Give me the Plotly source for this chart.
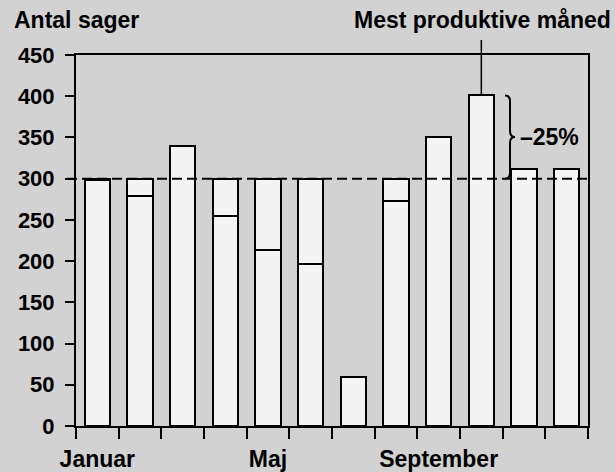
import plotly.graph_objects as go

# ---- data ----
months = ["Januar", "Februar", "Marts", "April", "Maj", "Juni",
          "Juli", "August", "September", "Oktober", "November", "December"]
cases = [298, 279, 340, 255, 214, 196, 59, 273, 351, 401, 312, 312]
gap_to_level = [2, 21, None, 45, 86, 104, None, 27, None, None, None, None]
labelled_months = ["Januar", "Maj", "September"]
y_ticks = [0, 50, 100, 150, 200, 250, 300, 350, 400, 450]
level = 300
peak_month = "Oktober"
y_title = "Antal sager"
peak_label = "Mest produktive måned"
reduction_label = "–25%"

# ---- style ----
BG = "#d2d2d2"
BAR = "#f4f4f4"
FONT = "Liberation Sans, Arial, sans-serif"
Y_MAX = y_ticks[-1]
L, R, T, B = 76, 27, 55, 46
W, H = 615, 472
PW, PH = W - L - R, H - T - B

x = list(range(1, len(months) + 1))
peak_x = months.index(peak_month) + 1
peak_val = cases[peak_x - 1]

fig = go.Figure()
fig.add_trace(go.Bar(x=x, y=cases, width=0.6,
                     marker=dict(color=BAR, line=dict(color="black", width=2)),
                     hoverinfo="skip"))
fig.add_trace(go.Bar(x=x, y=gap_to_level, width=0.6,
                     marker=dict(color=BAR, line=dict(color="black", width=2)),
                     hoverinfo="skip"))


def px(p):
    return 0.5 + (p - L) / PW * len(months)


shapes = []
# dashed reference level
shapes.append(dict(type="line", xref="paper", yref="y", x0=-9 / PW, x1=1,
                   y0=level, y1=level, layer="above",
                   line=dict(color="black", width=2, dash="10px,5px")))
# pointer line to peak month
shapes.append(dict(type="line", xref="x", yref="paper", x0=peak_x, x1=peak_x,
                   y0=peak_val / Y_MAX, y1=1 + 15 / PH, layer="above",
                   line=dict(color="black", width=1.5)))
# brace between peak and level
xa, xb, xc = px(505), px(510), px(515)
mid = (peak_val + level) / 2
r = 6 * Y_MAX / PH
path = (f"M {xa},{peak_val} Q {xb},{peak_val} {xb},{peak_val - r} "
        f"L {xb},{mid + r} Q {xb},{mid} {xc},{mid} "
        f"Q {xb},{mid} {xb},{mid - r} "
        f"L {xb},{level + r} Q {xb},{level} {xa},{level}")
shapes.append(dict(type="path", xref="x", yref="y", path=path, layer="above",
                   line=dict(color="black", width=2)))

annotations = [
    dict(text=y_title, xref="paper", yref="paper", x=(12 - L) / PW,
         y=1 + (T - 20) / PH, xanchor="left", yanchor="middle", showarrow=False,
         font=dict(size=23, family=FONT, color="black", weight="bold")),
    dict(text=peak_label, xref="paper", yref="paper", x=(613 - L) / PW,
         y=1 + (T - 20) / PH, xanchor="right", yanchor="middle", showarrow=False,
         font=dict(size=23, family=FONT, color="black", weight="bold")),
    dict(text=reduction_label, xref="x", yref="y", x=px(518), y=mid,
         xanchor="left", yanchor="middle", showarrow=False,
         font=dict(size=23, family=FONT, color="black", weight="bold")),
]

fig.update_layout(
    width=W, height=H,
    margin=dict(l=L, r=R, t=T, b=B, pad=0, autoexpand=False),
    paper_bgcolor=BG, plot_bgcolor=BG,
    barmode="stack", showlegend=False,
    font=dict(family=FONT, size=22, color="black", weight="bold"),
    shapes=shapes, annotations=annotations,
    xaxis=dict(range=[0.5, len(months) + 0.5], showgrid=False, zeroline=False,
               automargin=False,
               showline=True, linecolor="black", linewidth=2, mirror=True,
               tickmode="array",
               tickvals=[months.index(m) + 1 for m in labelled_months],
               ticktext=labelled_months, ticks="", ticklabelstandoff=11,
               tickfont=dict(size=23, family=FONT, weight="bold"),
               minor=dict(tickmode="linear", tick0=0.5, dtick=1, ticks="outside",
                          ticklen=11, tickwidth=2, tickcolor="black",
                          showgrid=False)),
    yaxis=dict(range=[0, Y_MAX], showgrid=False, zeroline=False,
               automargin=False,
               showline=True, linecolor="black", linewidth=2, mirror=True,
               tickmode="array", tickvals=y_ticks, ticks="outside",
               ticklen=9, tickwidth=2, tickcolor="black", ticklabelstandoff=6,
               tickfont=dict(size=22, family=FONT, weight="bold")),
)

fig.write_html("out.html",
               config={"displayModeBar": False},
               post_script="document.body.style.margin='0';"
                           "document.body.style.overflow='hidden';")
